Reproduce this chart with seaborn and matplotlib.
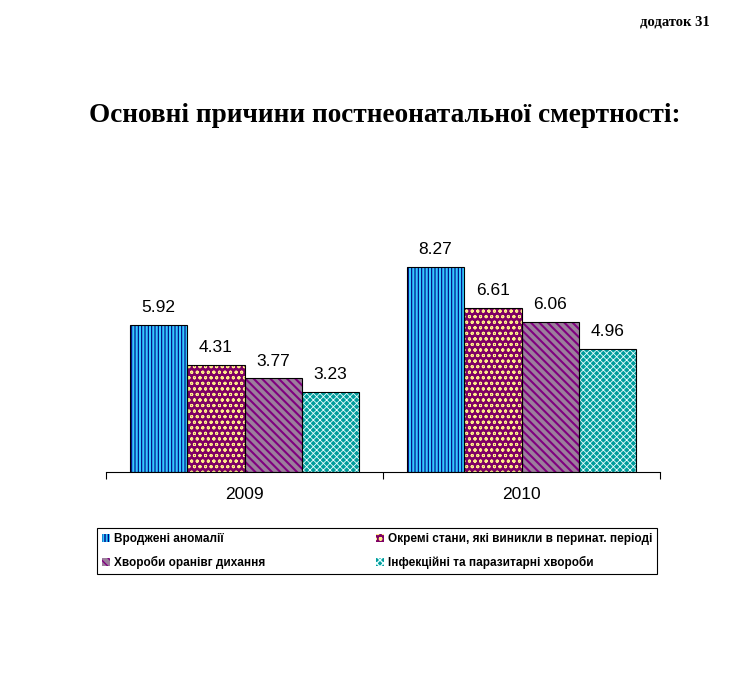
import matplotlib
matplotlib.use("Agg")
import matplotlib.pyplot as plt
from matplotlib.patches import Patch, Rectangle
import pandas as pd
import seaborn as sns

# Data
years = ["2009", "2010"]
causes = ["Вроджені аномалії",
          "Окремі стани, які виникли в перинат. періоді",
          "Хвороби оранівг дихання",
          "Інфекційні та паразитарні хвороби"]
values_2009 = [5.92, 4.31, 3.77, 3.23]
values_2010 = [8.27, 6.61, 6.06, 4.96]

df = pd.DataFrame({
    "year": [years[0]] * 4 + [years[1]] * 4,
    "cause": causes * 2,
    "value": values_2009 + values_2010,
})

face_colors = ["#33CCFF", "#7F0064", "#9C7E9C", "#009C9C"]
hatch_colors = ["#000080", "#FFEE88", "#800080", "#E8FFFF"]
hatches = ["|||||", "ooo", "\\\\\\\\", "xxxxx"]
hatch_widths = [0.8, 0.7, 1.5, 0.6]

sns.set_style("white")
plt.rcParams["font.family"] = ["Liberation Sans", "DejaVu Sans"]
plt.rcParams["text.color"] = "black"
plt.rcParams["xtick.color"] = "black"
plt.rcParams["hatch.linewidth"] = 1.0


def style_patch(p, i):
    p.set_hatch(hatches[i])
    p.set_edgecolor(hatch_colors[i])
    p.set_linewidth(0)
    if hasattr(p, "set_hatch_linewidth"):
        p.set_hatch_linewidth(hatch_widths[i])


fig = plt.figure(figsize=(7.37, 6.78), dpi=100)
ax = fig.add_axes([106 / 737, 206 / 678, 554 / 737, 273 / 678])

sns.barplot(data=df, x="year", y="value", hue="cause", hue_order=causes,
            palette=face_colors, width=0.83, ax=ax, legend=False,
            saturation=1, errorbar=None)

for i, cont in enumerate(ax.containers):
    for p in cont:
        style_patch(p, i)
        ax.add_patch(Rectangle(p.get_xy(), p.get_width(), p.get_height(),
                               fill=False, edgecolor="black", linewidth=0.8))
    ax.bar_label(cont, fmt="%.2f", padding=7, fontsize=12.5, color="black")

ax.set_ylim(0, 11)
ax.set_xlim(-0.5, 1.5)
ax.set_xlabel("")
ax.set_ylabel("")
ax.set_yticks([])
sns.despine(ax=ax, left=True, top=True, right=True)
ax.spines["bottom"].set_color("black")
ax.spines["bottom"].set_linewidth(0.8)
ax.set_xticks([-0.5, 0.5, 1.5], minor=True)
ax.tick_params(axis="x", which="major", length=0, labelsize=12.5, pad=11,
               labelcolor="black")
ax.tick_params(axis="x", which="minor", length=5, width=0.8, color="black",
               direction="out", bottom=True)

# legend
handles = []
for i in range(4):
    h = Patch(facecolor=face_colors[i])
    style_patch(h, i)
    handles.append(h)
order = [0, 2, 1, 3]
leg = fig.legend([handles[i] for i in order], [causes[i] for i in order],
                 loc="center", ncol=2, mode="expand",
                 bbox_to_anchor=(97 / 737, 98 / 678, 560 / 737, 58 / 678),
                 fancybox=False, framealpha=1, edgecolor="black",
                 handlelength=0.7, handleheight=0.7, handletextpad=0.3,
                 borderaxespad=0, labelspacing=0.9,
                 prop={"family": ["Liberation Sans Narrow", "Liberation Sans"],
                       "weight": "bold", "size": 8.5})
leg.get_frame().set_linewidth(0.8)
for t in leg.get_texts():
    t.set_color("black")

fig.text(385 / 737, 1 - 115 / 678, "Основні причини постнеонатальної смертності:",
         ha="center", va="center", fontsize=19.6, fontweight="bold",
         color="black", family=["Liberation Serif", "DejaVu Serif"])
fig.text(710 / 737, 1 - 22 / 678, "додаток 31", ha="right", va="center",
         fontsize=10.5, fontweight="bold", color="black",
         family=["Liberation Serif", "DejaVu Serif"])

fig.savefig("out.png", dpi=100)
